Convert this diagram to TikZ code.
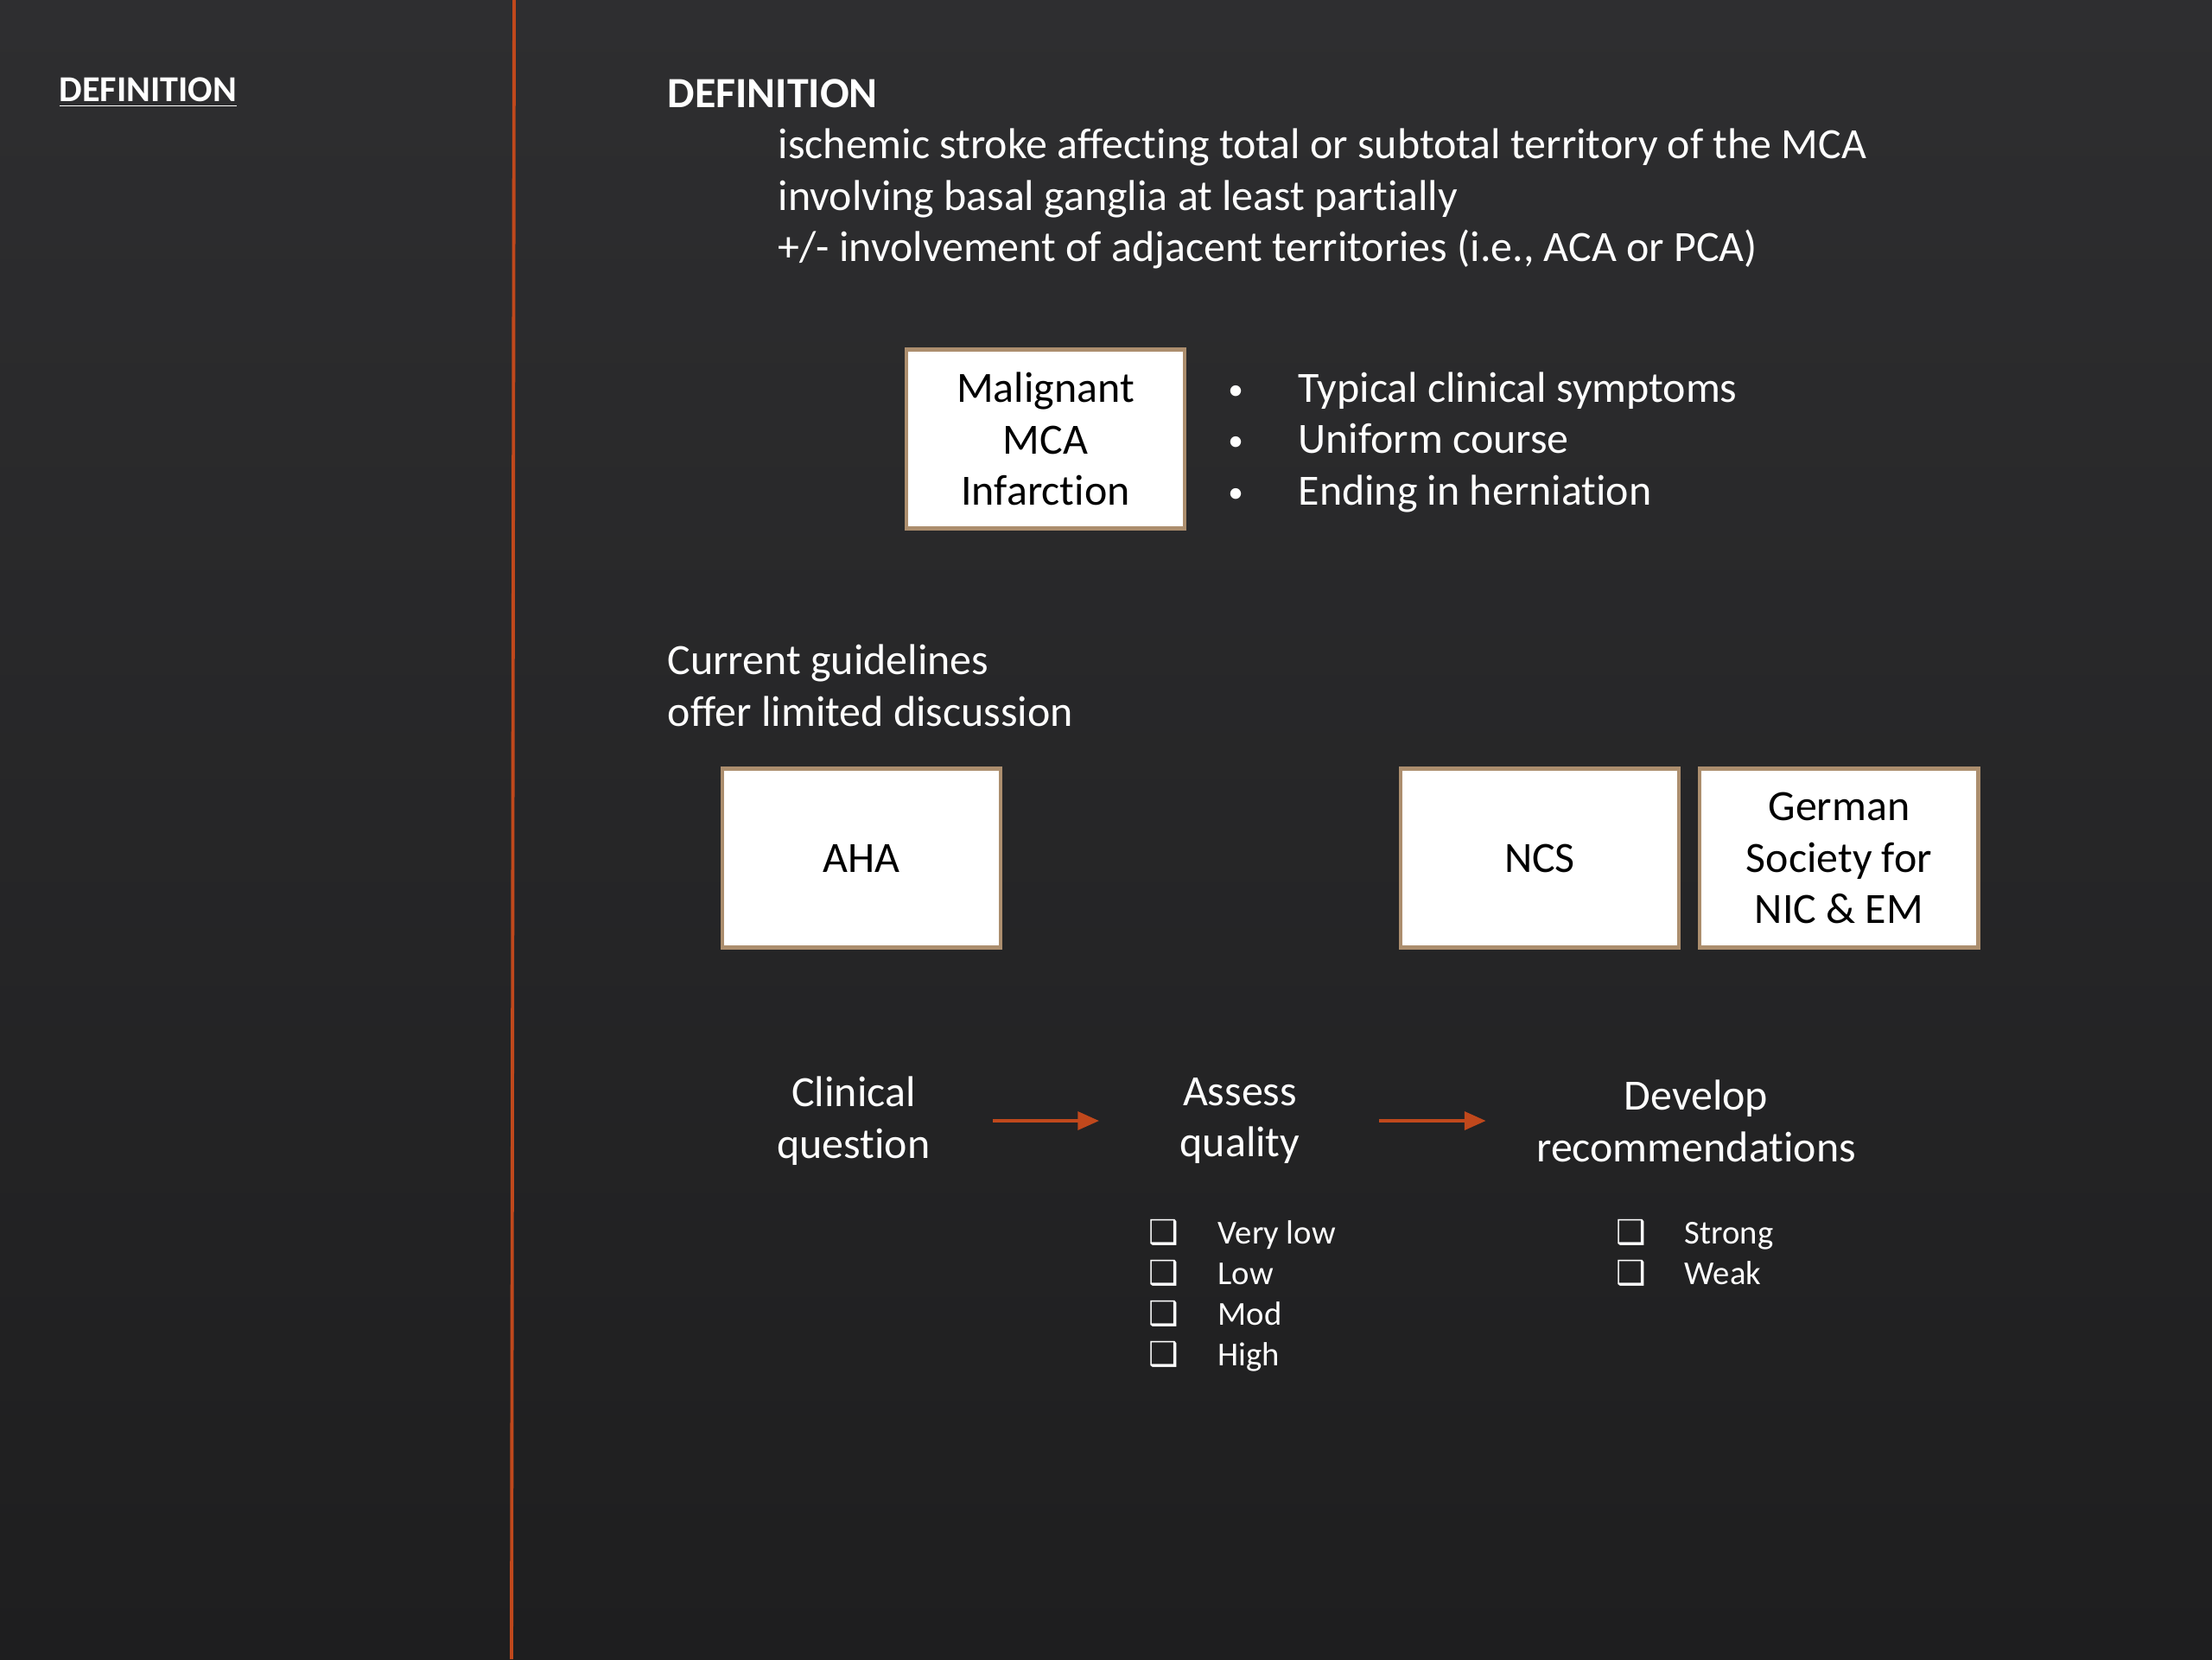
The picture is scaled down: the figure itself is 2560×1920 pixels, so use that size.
\documentclass[tikz,border=0pt]{standalone}
\usepackage{fontspec}
\setmainfont{Carlito}[Ligatures=NoCommon]
\newfontfamily\symfont{DejaVu Sans}
\usetikzlibrary{arrows.meta,positioning}
\definecolor{slate}{RGB}{46,46,48}
\definecolor{slatedark}{RGB}{30,30,31}
\definecolor{rust}{RGB}{192,72,28}
\definecolor{tan}{RGB}{172,142,110}

\begin{document}
\begin{tikzpicture}[
    x=0.01cm, y=-0.01cm,
    font=\fontsize{14.2}{17}\selectfont,
    every node/.style={inner sep=0pt},
    whitebox/.style={draw=tan,line width=1.2pt,fill=white,text=black,align=center,minimum width=3.22cm,minimum height=2.07cm},
    txt/.style={text=white,anchor=base west},
    dotmark/.style={text=white,anchor=base,font=\fontsize{10}{12}\selectfont},
    stepnode/.style={text=white,align=center},
    arr/.style={-{Triangle[length=7pt,width=6pt]},draw=rust,line width=0.9pt},
    chk/.style={text=white,anchor=base west,font=\fontsize{11}{13}\selectfont}
  ]
    \useasboundingbox (0,0) rectangle (2560,1920);
    \shade[top color=slate,bottom color=slatedark] (0,0) rectangle (2560,1920);
    \draw[rust,line width=1.1pt] (595,0) -- (592,1920);

    % left column
    \node[txt,font=\fontsize{12}{14}\selectfont\bfseries] (leftdef) at (68,117) {\underline{DEFINITION}};

    % definition text
    \node[txt,font=\fontsize{14.2}{17}\selectfont\bfseries] (def) at (772,124) {DEFINITION};
    \node[txt] (def1) at (900,183) {ischemic stroke affecting total or subtotal territory of the MCA};
    \node[txt] (def2) at (900,243) {involving basal ganglia at least partially};
    \node[txt] (def3) at (900,302) {+/- involvement of adjacent territories (i.e., ACA or PCA)};

    \node[whitebox] (mmi) at (1210,508) {Malignant\\MCA\\Infarction};
    \node[dotmark] (dot1) at (1430,462) {•};
    \node[dotmark] (dot2) at (1430,521) {•};
    \node[dotmark] (dot3) at (1430,581) {•};
    \node[txt] (sym1) at (1502,465) {Typical clinical symptoms};
    \node[txt] (sym2) at (1502,524) {Uniform course};
    \node[txt] (sym3) at (1502,584) {Ending in herniation};

    % guidelines
    \node[txt] (cur1) at (772,780) {Current guidelines};
    \node[txt] (cur2) at (772,840) {offer limited discussion};
    \node[whitebox] (aha) at (997,993) {AHA};
    \node[whitebox] (ncs) at (1782,993) {NCS};
    \node[whitebox,right=0.2cm of ncs] (dgni) {German\\Society for\\NIC \& EM};

    % process
    \node[stepnode] (clin) at (988,1297) {Clinical\\question};
    \node[stepnode] (assess) at (1435,1297) {Assess\\quality};
    \node[stepnode] (devel) at (1963,1297) {Develop\\recommendations};
    \draw[arr,shorten <=0.72cm,shorten >=0.93cm] (clin) -- (assess);
    \draw[arr,shorten <=0.91cm,shorten >=0.58cm] (assess) -- (devel);

    \foreach \lbl [count=\i] in {Very low,Low,Mod,High} {
      \node[chk] (qbox\i) at (1329,{1392+47*\i}) {\symfont ❑};
      \node[chk] (qlbl\i) at (1409,{1392+47*\i}) {\lbl};
    }
    \foreach \lbl [count=\i] in {Strong,Weak} {
      \node[chk] (rbox\i) at (1870,{1392+47*\i}) {\symfont ❑};
      \node[chk] (rlbl\i) at (1949,{1392+47*\i}) {\lbl};
    }
  \end{tikzpicture}
\end{document}
